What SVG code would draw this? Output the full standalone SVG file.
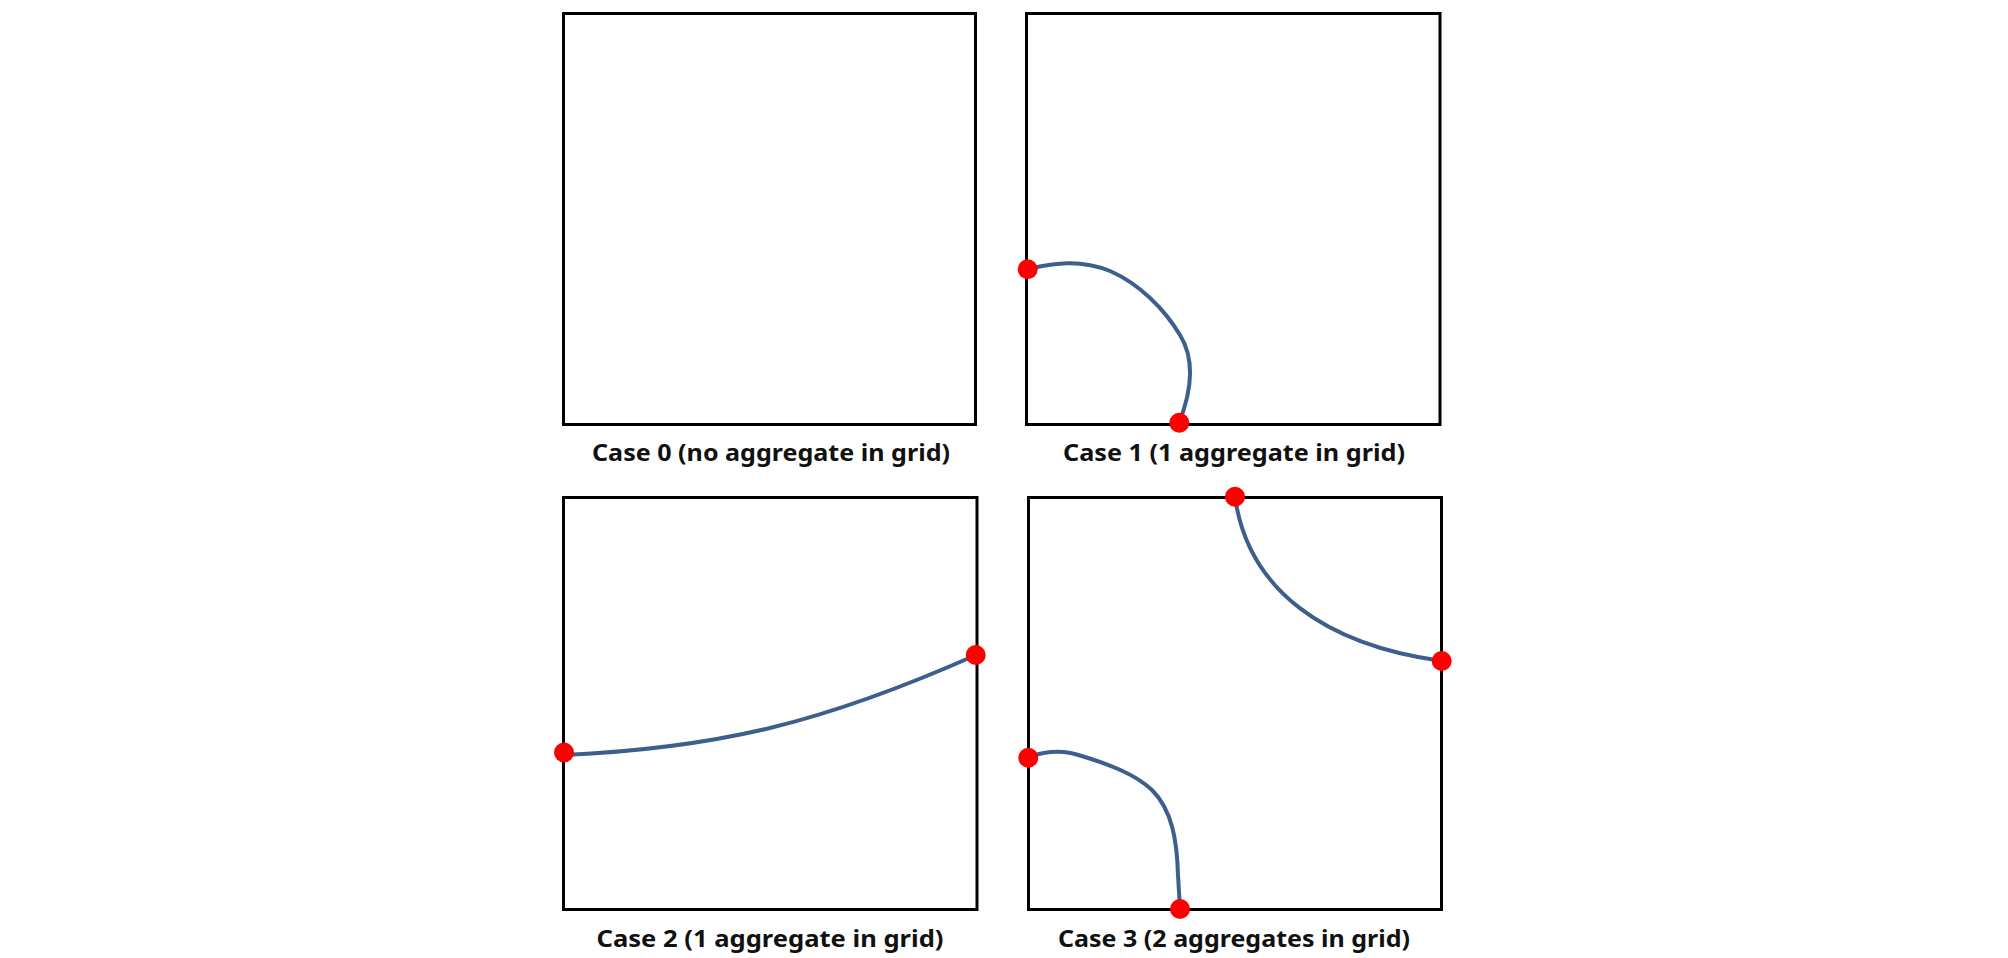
<svg xmlns="http://www.w3.org/2000/svg" width="2008" height="958" viewBox="0 0 2008 958">
<style>
.box{fill:#ffffff;stroke:#000000;stroke-width:3}
.curve{fill:none;stroke:#3d5f8c;stroke-width:4;stroke-linecap:round}
.dot{fill:#ff0000}
.lbl{font-family:"Noto Sans","Open Sans","Liberation Sans",sans-serif;font-weight:bold;font-size:24px;fill:#111111;text-anchor:middle}
</style>
<rect width="2008" height="958" fill="#ffffff"/>
<g id="case0">
<rect class="box" x="563.5" y="13.5" width="412" height="411"/>
<text class="lbl" x="771" y="461" textLength="358" lengthAdjust="spacingAndGlyphs">Case 0 (no aggregate in grid)</text>
</g>
<g id="case1">
<rect class="box" x="1026.5" y="13.5" width="413.5" height="411"/>
<text class="lbl" x="1234" y="461" textLength="342" lengthAdjust="spacingAndGlyphs">Case 1 (1 aggregate in grid)</text>
</g>
<g id="case2">
<rect class="box" x="563.5" y="497.5" width="413.5" height="412"/>
<text class="lbl" x="770" y="946.5" textLength="347" lengthAdjust="spacingAndGlyphs">Case 2 (1 aggregate in grid)</text>
</g>
<g id="case3">
<rect class="box" x="1028.5" y="497.5" width="413" height="412"/>
<text class="lbl" x="1234" y="946.5" textLength="352" lengthAdjust="spacingAndGlyphs">Case 3 (2 aggregates in grid)</text>
</g>
<g id="connectors">
<path class="curve" d="M1028,269 C1055,263 1080,259 1110,271 C1140,284 1165,310 1180,335 C1193,356 1194,385 1179,423"/>
<path class="curve" d="M564,755 C720,748 825,722 976,655"/>
<path class="curve" d="M1235,497 C1248,590 1325,645 1442,661"/>
<path class="curve" d="M1028,757 C1050,750 1065,750 1085,757 C1110,765 1135,774 1152,790 C1172,810 1177,840 1178,875 L1180,909"/>
</g>
<g id="points">
<circle class="dot" cx="1027.7" cy="269.3" r="10"/>
<circle class="dot" cx="1179.3" cy="422.7" r="10"/>
<circle class="dot" cx="564" cy="752.5" r="10"/>
<circle class="dot" cx="975.7" cy="655" r="10"/>
<circle class="dot" cx="1235" cy="496.7" r="10"/>
<circle class="dot" cx="1441.7" cy="661" r="10"/>
<circle class="dot" cx="1028.3" cy="757.7" r="10"/>
<circle class="dot" cx="1180" cy="909" r="10"/>
</g>
</svg>
